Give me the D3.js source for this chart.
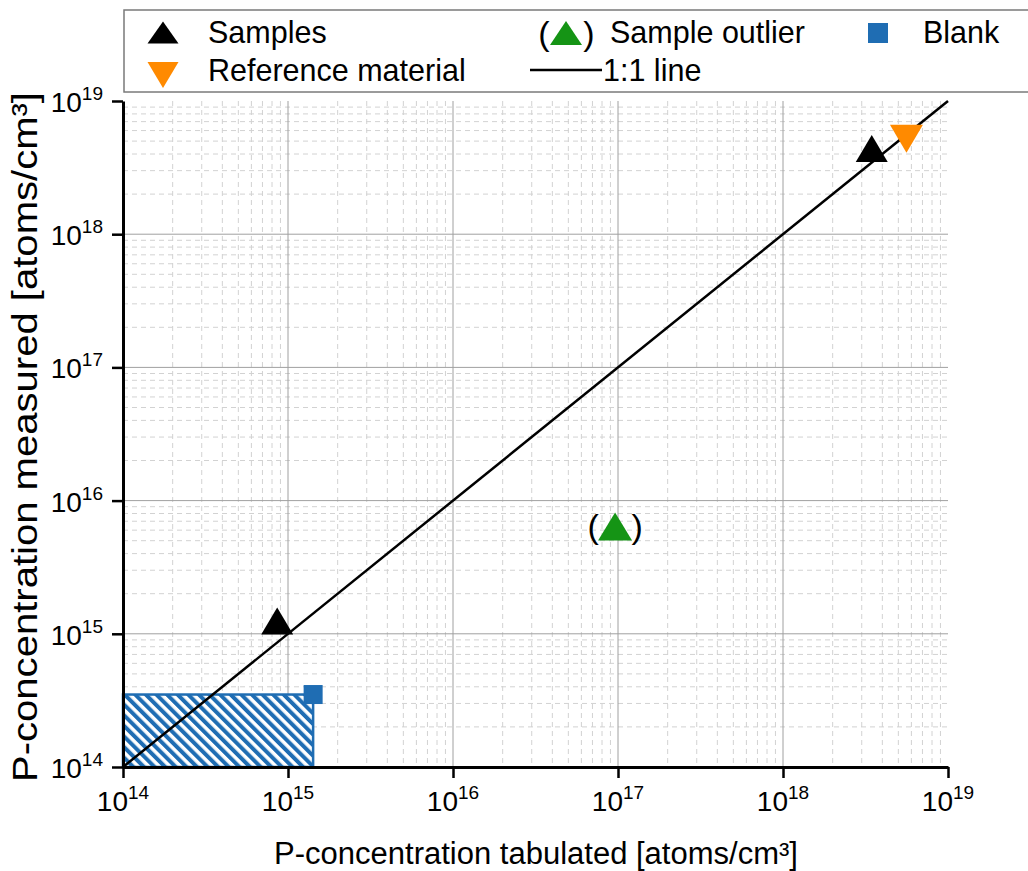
<!DOCTYPE html>
<html>
<head>
<meta charset="utf-8">
<script src="https://cdn.jsdelivr.net/npm/d3@7"></script>
<style>
  body { margin: 0; background: #fff; }
  text { font-family: "Liberation Sans", Arial, sans-serif; fill: #000; }
</style>
</head>
<body>
<div id="container"></div>
<script>
let w = 1028;
let h = 871;

// data
let decades = [14, 15, 16, 17, 18, 19];
let samplesX = [8.6e14, 3.45e18];
let samplesY = [1.25e15, 4.4e18];
let refX = [5.6e18];
let refY = [5.2e18];
let outlierX = [9.6e16];
let outlierY = [6.4e15];
let blankX = [1.42e15];
let blankY = [3.5e14];
let lineX = [1e14, 1e19];

let blue = "#1f6db3";
let orange = "#ff8a00";
let green = "#159415";

let viz = d3.select("#container")
  .append("svg")
    .attr("width", w)
    .attr("height", h)
    .style("background-color", "#fff");

let x = d3.scaleLog().domain([1e14, 1e19]).range([123, 948]);
let y = d3.scaleLog().domain([1e14, 1e19]).range([767, 101]);

let majors = decades.map(d => Math.pow(10, d));
let minors = [];
for (let i = 0; i < decades.length - 1; i++) {
  for (let m = 2; m <= 9; m++) minors.push(m * Math.pow(10, decades[i]));
}

// hatch pattern for the blank region
let defs = viz.append("defs");
let pat = defs.append("pattern")
    .attr("id", "hatch")
    .attr("patternUnits", "userSpaceOnUse")
    .attr("width", 7.5)
    .attr("height", 7.5)
    .attr("patternTransform", "rotate(-45)");
pat.append("rect").attr("width", 7.5).attr("height", 7.5).attr("fill", "#fff");
pat.append("rect").attr("width", 4).attr("height", 7.5).attr("fill", blue);

// grid
let grid = viz.append("g");
grid.selectAll(".vminor").data(minors).enter().append("line")
    .attr("x1", d => x(d)).attr("x2", d => x(d))
    .attr("y1", y(1e19)).attr("y2", y(1e14))
    .attr("stroke", "#d2d2d2").attr("stroke-width", 1).attr("stroke-dasharray", "5,4");
grid.selectAll(".hminor").data(minors).enter().append("line")
    .attr("y1", d => y(d)).attr("y2", d => y(d))
    .attr("x1", x(1e14)).attr("x2", x(1e19))
    .attr("stroke", "#d2d2d2").attr("stroke-width", 1).attr("stroke-dasharray", "5,4");
grid.selectAll(".vmajor").data(majors.slice(1, -1)).enter().append("line")
    .attr("x1", d => x(d)).attr("x2", d => x(d))
    .attr("y1", y(1e19)).attr("y2", y(1e14))
    .attr("stroke", "#a0a0a0").attr("stroke-width", 1);
grid.selectAll(".hmajor").data(majors.slice(1, -1)).enter().append("line")
    .attr("y1", d => y(d)).attr("y2", d => y(d))
    .attr("x1", x(1e14)).attr("x2", x(1e19))
    .attr("stroke", "#a0a0a0").attr("stroke-width", 1);

// blank region
viz.append("rect")
    .attr("x", x(1e14))
    .attr("y", y(blankY[0]))
    .attr("width", x(blankX[0]) - x(1e14))
    .attr("height", y(1e14) - y(blankY[0]))
    .attr("fill", "url(#hatch)")
    .attr("stroke", blue)
    .attr("stroke-width", 2.5);

// 1:1 line
viz.append("path")
    .datum(lineX)
    .attr("d", d3.line().x(d => x(d)).y(d => y(d)))
    .attr("stroke", "#000")
    .attr("stroke-width", 2.5)
    .attr("fill", "none");

function triUp(cx, cy, tw, th) {
  return "M " + cx + " " + (cy - th / 2) + " L " + (cx + tw / 2) + " " + (cy + th / 2) +
         " L " + (cx - tw / 2) + " " + (cy + th / 2) + " Z";
}
function triDown(cx, cy, tw, th) {
  return "M " + cx + " " + (cy + th / 2) + " L " + (cx + tw / 2) + " " + (cy - th / 2) +
         " L " + (cx - tw / 2) + " " + (cy - th / 2) + " Z";
}

// blank point
viz.selectAll(".blank").data(blankX).enter().append("rect")
    .attr("x", (d, i) => x(d) - 9.5)
    .attr("y", (d, i) => y(blankY[i]) - 9.5)
    .attr("width", 19).attr("height", 19)
    .attr("fill", blue);

// samples
viz.selectAll(".sample").data(samplesX).enter().append("path")
    .attr("d", (d, i) => triUp(x(d), y(samplesY[i]), 32, 27))
    .attr("fill", "#000");

// reference material
viz.selectAll(".ref").data(refX).enter().append("path")
    .attr("d", (d, i) => triDown(x(d), y(refY[i]), 33, 28))
    .attr("fill", orange);

// outlier, in brackets
let out = viz.selectAll(".outlier").data(outlierX).enter().append("g");
out.append("path")
    .attr("d", (d, i) => triUp(x(d), y(outlierY[i]), 34, 28))
    .attr("fill", green);
out.append("text")
    .attr("x", d => x(d) - 22)
    .attr("y", (d, i) => y(outlierY[i]) + 12)
    .attr("text-anchor", "middle")
    .attr("style", "font-size:34px")
    .text("(");
out.append("text")
    .attr("x", d => x(d) + 22)
    .attr("y", (d, i) => y(outlierY[i]) + 12)
    .attr("text-anchor", "middle")
    .attr("style", "font-size:34px")
    .text(")");

// axes
let xAxis = viz.append("g").attr("transform", "translate(0," + y(1e14) + ")");
xAxis.call(d3.axisBottom(x).tickValues(minors).tickSize(6).tickSizeOuter(0).tickFormat(""));
xAxis.call(d3.axisBottom(x).tickValues(majors).tickSize(11).tickSizeOuter(0).tickFormat(""));
let yAxis = viz.append("g").attr("transform", "translate(" + x(1e14) + ",0)");
yAxis.call(d3.axisLeft(y).tickValues(minors).tickSize(6).tickSizeOuter(0).tickFormat(""));
yAxis.call(d3.axisLeft(y).tickValues(majors).tickSize(11).tickSizeOuter(0).tickFormat(""));
viz.selectAll(".domain").attr("stroke", "#000").attr("stroke-width", 3);
viz.selectAll(".tick line").attr("stroke", "#000").attr("stroke-width", 2.5);

// tick labels 10^n
let xl = viz.selectAll(".xlab").data(decades).enter().append("text")
    .attr("x", d => x(Math.pow(10, d)))
    .attr("y", 811)
    .attr("text-anchor", "middle")
    .attr("style", "font-size:28px");
xl.append("tspan").text("10");
xl.append("tspan").attr("dy", -12).attr("style", "font-size:19px").text(d => d);

let yl = viz.selectAll(".ylab").data(decades).enter().append("text")
    .attr("x", 103)
    .attr("y", d => y(Math.pow(10, d)) + 11)
    .attr("text-anchor", "end")
    .attr("style", "font-size:28px");
yl.append("tspan").text("10");
yl.append("tspan").attr("dy", -12).attr("style", "font-size:19px").text(d => d);

// axis titles
viz.append("text")
    .attr("x", 536)
    .attr("y", 864)
    .attr("text-anchor", "middle")
    .attr("style", "font-size:31px")
    .text("P-concentration tabulated [atoms/cm³]");

viz.append("text")
    .attr("transform", "translate(37,437) rotate(-90)")
    .attr("text-anchor", "middle")
    .attr("style", "font-size:35px")
    .attr("textLength", 690)
    .attr("lengthAdjust", "spacingAndGlyphs")
    .text("P-concentration measured [atoms/cm³]");

// legend
viz.append("rect")
    .attr("x", 124).attr("y", 10)
    .attr("width", 1000).attr("height", 82)
    .attr("fill", "#fff")
    .attr("stroke", "#7a7a7a")
    .attr("stroke-width", 1.5);

viz.append("path").attr("d", triUp(163, 32.5, 31, 22)).attr("fill", "#000");
viz.append("path").attr("d", triDown(163, 75, 31, 26)).attr("fill", orange);
viz.append("path").attr("d", triUp(566, 33, 32, 24)).attr("fill", green);
viz.append("text").attr("x", 544).attr("y", 45).attr("text-anchor", "middle")
    .attr("style", "font-size:34px").text("(");
viz.append("text").attr("x", 589).attr("y", 45).attr("text-anchor", "middle")
    .attr("style", "font-size:34px").text(")");
viz.append("rect").attr("x", 868).attr("y", 23).attr("width", 20).attr("height", 20).attr("fill", blue);
viz.append("line").attr("x1", 530).attr("x2", 602).attr("y1", 70).attr("y2", 70)
    .attr("stroke", "#000").attr("stroke-width", 2.5);

let legendText = [
  { t: "Samples", x: 208, y: 43 },
  { t: "Reference material", x: 208, y: 81 },
  { t: "Sample outlier", x: 610, y: 43 },
  { t: "1:1 line", x: 603, y: 81 },
  { t: "Blank", x: 923, y: 43 }
];
viz.selectAll(".leg").data(legendText).enter().append("text")
    .attr("x", d => d.x)
    .attr("y", d => d.y)
    .attr("style", "font-size:30.5px")
    .text(d => d.t);
</script>
</body>
</html>
